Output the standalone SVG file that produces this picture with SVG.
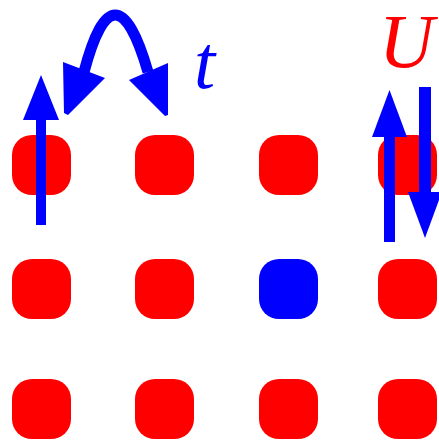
<svg xmlns="http://www.w3.org/2000/svg" width="439" height="442" viewBox="0 0 439 442">
<style>
.site{fill:#ff0000}
.hole{fill:#0000ff}
.arr{fill:#0000ff}
.hop{fill:none;stroke:#0000ff;stroke-width:11}
.lbl{font-family:"Liberation Serif",serif;font-style:italic;font-size:76px}
</style>
<rect width="439" height="442" fill="#ffffff"/>
<g id="site-1-1"><rect class="site" x="12" y="135" width="59" height="60" rx="20"/></g>
<g id="site-1-2"><rect class="site" x="135" y="135" width="59" height="60" rx="20"/></g>
<g id="site-1-3"><rect class="site" x="259" y="135" width="59" height="60" rx="20"/></g>
<g id="site-1-4"><rect class="site" x="378" y="135" width="59" height="60" rx="20"/></g>
<g id="site-2-1"><rect class="site" x="12" y="259" width="59" height="60" rx="20"/></g>
<g id="site-2-2"><rect class="site" x="135" y="259" width="59" height="60" rx="20"/></g>
<g id="site-2-3"><rect class="hole" x="259" y="259" width="59" height="60" rx="20"/></g>
<g id="site-2-4"><rect class="site" x="378" y="259" width="59" height="60" rx="20"/></g>
<g id="site-3-1"><rect class="site" x="12" y="379" width="59" height="60" rx="20"/></g>
<g id="site-3-2"><rect class="site" x="135" y="379" width="59" height="60" rx="20"/></g>
<g id="site-3-3"><rect class="site" x="259" y="379" width="59" height="60" rx="20"/></g>
<g id="site-3-4"><rect class="site" x="378" y="379" width="59" height="60" rx="20"/></g>
<g id="connectors">
<g id="spin-up-1">
<rect class="arr" x="36" y="118" width="10" height="107"/>
<polygon class="arr" points="41,75 59,120 23,120"/>
</g>
<g id="hopping">
<path class="hop" d="M84,72 C104,-4 126,-4 148,72"/>
<polygon class="arr" points="63,62 105,78 68,115 64,113"/>
<polygon class="arr" points="129,80 168,63 168,115 165,116"/>
</g>
<g id="spin-up-2">
<rect class="arr" x="384" y="135" width="11" height="107"/>
<polygon class="arr" points="389.5,90 407,137 372,137"/>
</g>
<g id="spin-down-2">
<rect class="arr" x="419" y="87" width="12" height="107"/>
<polygon class="arr" points="408,192 442,192 425,238"/>
</g>
</g>
<g id="label-t"><text class="lbl" x="194" y="88" fill="#0000ff">t</text></g>
<g id="label-U"><text class="lbl" x="379" y="67" fill="#ff0000">U</text></g>
</svg>
